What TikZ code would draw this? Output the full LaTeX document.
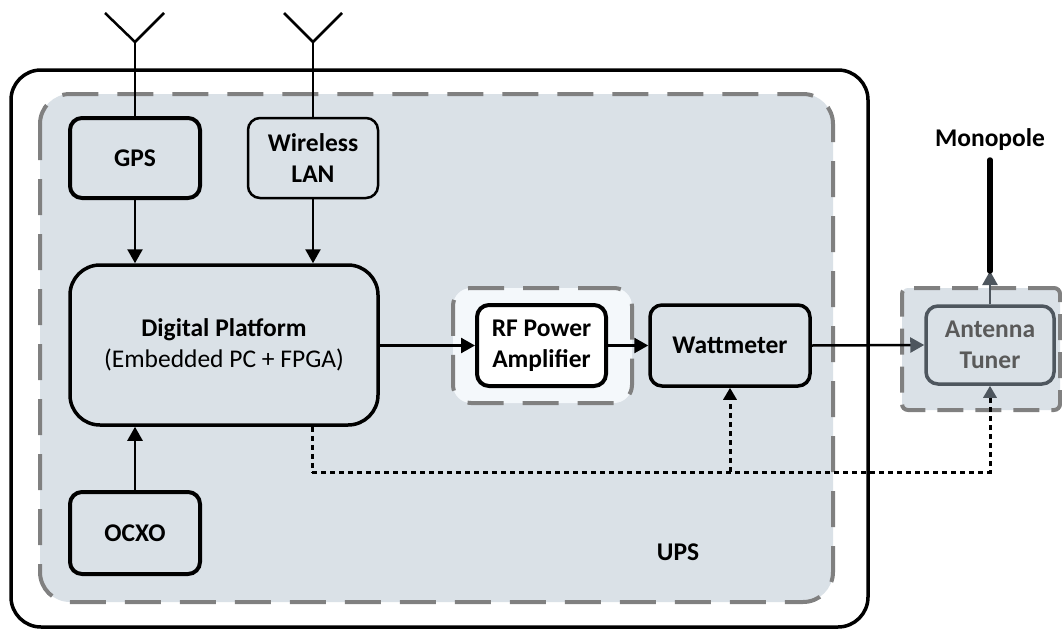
\documentclass[tikz,border=0pt]{standalone}
\usepackage{fontspec}
\setmainfont{Carlito}
\usetikzlibrary{arrows.meta}
\definecolor{upsfill}{HTML}{DAE1E7}
\definecolor{dashgray}{HTML}{808080}
\definecolor{tungray}{HTML}{4E565E}
\definecolor{tuntext}{HTML}{5A5A5A}
\definecolor{rffill}{HTML}{F4F8FB}
\tikzset{
  blk/.style={draw=black, rounded corners=12pt, minimum width=130pt, minimum height=80pt, inner sep=0pt, align=center, font=\fontsize{25.5}{31}\selectfont\bfseries, fill=upsfill},
  dashbox/.style={draw=dashgray, line width=4pt, dash pattern=on 36pt off 19pt},
  arr/.style={line width=2.5pt, -{Triangle[length=14pt,width=15pt]}},
  dots/.style={line width=3pt, dash pattern=on 5pt off 4pt},
  dotarr/.style={dots, -{Triangle[length=12pt,width=13pt]}},
  ant/.style={line width=2.5pt},
  lbl/.style={font=\fontsize{25.5}{31}\selectfont\bfseries, inner sep=0pt}
}
\begin{document}
\begin{tikzpicture}[x=1pt,y=-1pt]
\useasboundingbox (0,0) rectangle (1062,629);
% outer box
\draw[line width=3.5pt, fill=white, rounded corners=30pt] (11,70) rectangle (868,627);
% UPS dashed region
\draw[dashbox, fill=upsfill, rounded corners=30pt] (40,94) rectangle (833,602);
\node[lbl] (ups) at (678,552) {UPS};
% RF dashed group
\node[dashbox, fill=rffill, rounded corners=18pt, minimum width=179pt, minimum height=115pt, inner sep=0pt] (rfgrp) at (542.5,345.5) {};
% tuner dashed group
\node[dashbox, draw=dashgray, fill=upsfill, rounded corners=6pt, dash pattern=on 26pt off 12pt, minimum width=158pt, minimum height=122pt, inner sep=0pt] (tungrp) at (981,349) {};
% blocks
\node[blk, line width=4pt] (gps) at (135,158) {GPS};
\node[blk, line width=2.5pt] (wlan) at (313,158) {Wireless\\LAN};
\node[blk, line width=3.5pt, rounded corners=30pt, minimum width=308pt, minimum height=160pt, align=center] (dp) at (224,345) {Digital Platform\\{\mdseries(Embedded PC + FPGA)}};
\node[blk, line width=4pt, minimum height=82pt] (ocxo) at (135,533) {OCXO};
\node[blk, line width=4pt, fill=white, minimum width=129pt, minimum height=81pt] (rf) at (541.5,345.5) {RF Power\\Amplifier};
\node[blk, line width=3.5pt, minimum width=160pt, minimum height=81pt] (watt) at (730,345.5) {Wattmeter};
\node[blk, line width=3.5pt, draw=tungray, text=tuntext, minimum width=128pt, minimum height=78pt] (tun) at (990,345) {Antenna\\Tuner};
% antennas
\coordinate (ga) at (135,42);
\coordinate (gl) at (105,13);
\coordinate (gr) at (164,13);
\draw[ant] (gl) -- (ga) -- (gr);
\draw[ant] (ga) -- (gps.north);
\coordinate (wa) at (313,42);
\coordinate (wl) at (284,13);
\coordinate (wr) at (342,13);
\draw[ant] (wl) -- (wa) -- (wr);
\draw[ant] (wa) -- (wlan.north);
% arrows
\draw[arr] (gps.south) -- (gps.south |- dp.north);
\draw[arr] (wlan.south) -- (wlan.south |- dp.north);
\draw[arr] (ocxo.north) -- (ocxo.north |- dp.south);
\draw[arr] (dp.east |- rf.west) -- (rf.west);
\draw[arr] (rf.east) -- (watt.west);
\draw[line width=2.5pt, -{Triangle[length=14pt,width=15pt,color=tungray]}] (watt.east) -- (tun.west);
% monopole
\node[lbl] (mono) at (990,140) {Monopole};
\coordinate (mtop) at (990,160);
\coordinate (mbot) at (990,271);
\draw[line width=2.5pt, draw=tungray, -{Triangle[length=14pt,width=15pt]}, color=tungray] (tun.north) -- (mbot);
\draw[line width=5.5pt, line cap=round] (mbot) -- (mtop);
% dotted control lines
\coordinate (d1) at (312,472);
\draw[dots] (dp.south -| d1) -- (d1);
\draw[dotarr, -{Triangle[length=12pt,width=13pt,color=tungray]}] (d1) -| (tun.south);
\draw[dotarr] (d1 -| watt.south) -- (watt.south);
\end{tikzpicture}
\end{document}
